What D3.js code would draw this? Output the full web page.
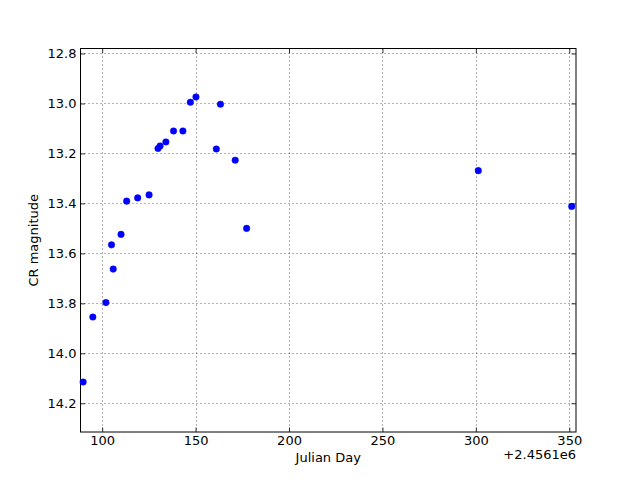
<!DOCTYPE html>
<html><head><meta charset="utf-8">
<script src="https://cdn.jsdelivr.net/npm/d3@7"></script>
<style>body{margin:0;background:#fff}svg{display:block}text{font-family:"DejaVu Sans",sans-serif;}</style>
</head><body>
<script>
const julianDay = [89.8, 95.0, 102.0, 105.0, 105.9, 110.1, 113.1, 119.0, 125.1, 129.9, 131.0, 134.1, 138.2, 143.2, 147.2, 150.2, 161.1, 163.3, 171.2, 177.3, 301.3, 351.3];
const crMag     = [14.115, 13.855, 13.797, 13.566, 13.663, 13.524, 13.391, 13.378, 13.366, 13.18, 13.17, 13.154, 13.11, 13.11, 12.995, 12.974, 13.182, 13.003, 13.227, 13.50, 13.269, 13.412];
const xTicks = [100, 150, 200, 250, 300, 350];
const yTicks = [12.8, 13.0, 13.2, 13.4, 13.6, 13.8, 14.0, 14.2];
const xOffsetLabel = "+2.4561e6";

const W = 640, H = 480;
const L = 80.5, R = 576, T = 48.5, B = 432;
const svg = d3.select("body").append("svg").attr("width", W).attr("height", H);
const x = d3.scaleLinear().domain([88.4, 353.6]).range([L, R]);
const y = d3.scaleLinear().domain([12.78, 14.315]).range([T, B]);

const g = svg.append("g");
// grid
g.selectAll(".gx").data(xTicks).join("line")
  .attr("x1", d => Math.round(x(d)) + 0.5).attr("x2", d => Math.round(x(d)) + 0.5)
  .attr("y1", T).attr("y2", B)
  .attr("stroke", "#000").attr("stroke-width", 0.6).attr("stroke-dasharray", "1,3");
g.selectAll(".gy").data(yTicks).join("line")
  .attr("y1", d => Math.round(y(d)) + 0.5).attr("y2", d => Math.round(y(d)) + 0.5)
  .attr("x1", L).attr("x2", R)
  .attr("stroke", "#000").attr("stroke-width", 0.6).attr("stroke-dasharray", "1,3");

// axes (ticks inward on all sides)
const fs = "13px";
const axB = svg.append("g").attr("transform", `translate(0,${B})`)
  .call(d3.axisBottom(x).tickValues(xTicks).tickSizeInner(-4.5).tickSizeOuter(0).tickPadding(4).tickFormat(d3.format("d")));
const axT = svg.append("g").attr("transform", `translate(0,${T})`)
  .call(d3.axisTop(x).tickValues(xTicks).tickSizeInner(-4.5).tickSizeOuter(0).tickFormat(""));
const axL = svg.append("g").attr("transform", `translate(${L},0)`)
  .call(d3.axisLeft(y).tickValues(yTicks).tickSizeInner(-4.5).tickSizeOuter(0).tickPadding(4).tickFormat(d3.format(".1f")));
const axR = svg.append("g").attr("transform", `translate(${R},0)`)
  .call(d3.axisRight(y).tickValues(yTicks).tickSizeInner(-4.5).tickSizeOuter(0).tickFormat(""));
[axB, axT, axL, axR].forEach(a => {
  a.select(".domain").remove();
  a.selectAll("line").attr("stroke", "#000").attr("stroke-width", 0.8);
  a.selectAll("text").attr("font-size", fs).attr("fill", "#000").attr("font-family", "DejaVu Sans");
});
svg.append("rect").attr("x", L).attr("y", T).attr("width", R - L).attr("height", B - T)
  .attr("fill", "none").attr("stroke", "#000").attr("stroke-width", 1);

// points
svg.append("g").selectAll("circle").data(julianDay.map((d, i) => [d, crMag[i]])).join("circle")
  .attr("cx", d => x(d[0])).attr("cy", d => y(d[1])).attr("r", 3.3)
  .attr("fill", "#0000ff").attr("stroke", "#0000ff").attr("stroke-width", 0.4);

// labels
svg.append("text").attr("x", (L + R) / 2).attr("y", 462).attr("text-anchor", "middle")
  .attr("font-size", fs).text("Julian Day");
svg.append("text").attr("x", R).attr("y", 459).attr("text-anchor", "end")
  .attr("font-size", fs).text(xOffsetLabel);
svg.append("text").attr("transform", `translate(38,${(T + B) / 2}) rotate(-90)`).attr("text-anchor", "middle")
  .attr("font-size", fs).text("CR magnitude");
</script>
</body></html>
